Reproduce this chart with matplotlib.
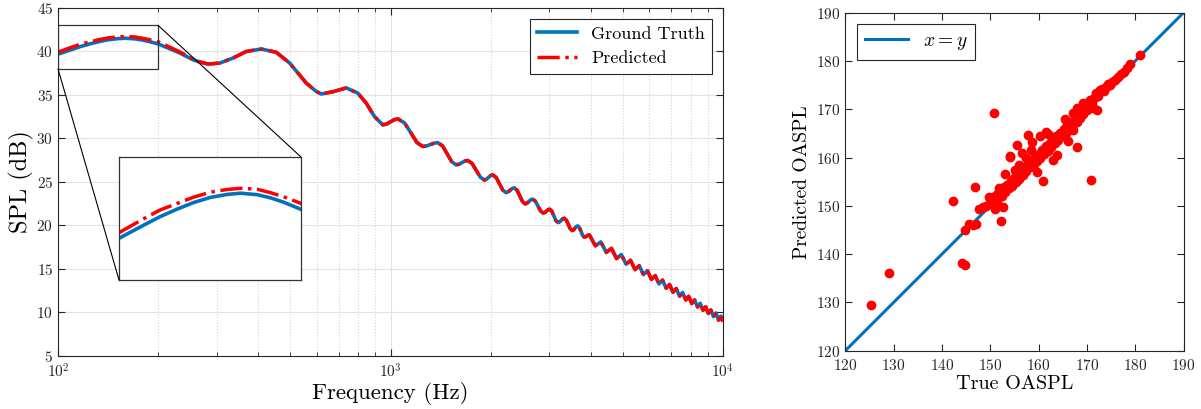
import numpy as np
import matplotlib
matplotlib.use("Agg")
import matplotlib.pyplot as plt
from matplotlib.patches import Rectangle, ConnectionPatch

plt.rcParams['font.family'] = ['cmr10', 'DejaVu Serif']
plt.rcParams['mathtext.fontset'] = 'cm'
plt.rcParams['axes.formatter.use_mathtext'] = True
plt.rcParams['axes.unicode_minus'] = False

# SPL spectrum (Hz, dB)
freq = [100, 109.8, 117, 124.7, 132.9, 141.7, 151, 159, 169.4, 178.3, 187.6, 200,
        232.5, 254.9, 267, 282.7, 306.6, 336, 368.6, 409, 453.6, 497.5, 558, 598,
        619, 671, 736, 797.6, 845, 895, 948, 974, 1000, 1026, 1052,
        1101.5, 1151, 1200.5, 1250, 1284, 1318.5, 1353, 1387,
        1434, 1480.5, 1527, 1574, 1607, 1640, 1673, 1706,
        1758, 1810.5, 1863, 1915, 1943.5, 1972, 2000.5, 2029,
        2078, 2126.5, 2175, 2224, 2257, 2290, 2323, 2356,
        2402, 2448.5, 2495, 2541, 2574.5, 2608, 2641.5, 2675,
        2726, 2777.5, 2829, 2880, 2912.5, 2945, 2977.5, 3010,
        3055, 3100, 3145, 3190, 3225, 3260, 3295, 3330,
        3377.5, 3425, 3472.5, 3520, 3554, 3587.5, 3621, 3655,
        3699, 3742.5, 3786, 3830, 3863.5, 3897, 3930.5,
        3964, 4130, 4291, 4457, 4618, 4784, 4945, 5111, 5272, 5438, 5599, 5765,
        5926, 6092, 6253, 6419, 6580, 6746, 6907, 7073, 7234, 7400, 7561, 7727,
        7888, 8054, 8215, 8381, 8542, 8708, 8869, 9035, 9196, 9362, 9523, 9689,
        9850, 10000]
spl_true = [39.69, 40.22, 40.57, 40.87, 41.14, 41.35, 41.47, 41.52, 41.46, 41.33, 41.15, 40.87,
            39.82, 39.04, 38.78, 38.55, 38.66, 39.24, 40.00, 40.28, 39.90, 38.66, 36.36, 35.40,
            35.10, 35.36, 35.80, 35.20, 34.06, 32.50, 31.55, 31.65, 31.90, 32.14, 32.24,
            31.78, 30.65, 29.52, 29.06, 29.12, 29.28, 29.44, 29.50,
            29.13, 28.22, 27.32, 26.95, 27.02, 27.20, 27.38, 27.45,
            27.12, 26.32, 25.53, 25.20, 25.29, 25.50, 25.71, 25.80,
            25.50, 24.78, 24.05, 23.75, 23.83, 24.03, 24.22, 24.30,
            24.03, 23.38, 22.72, 22.45, 22.53, 22.73, 22.92, 23.00,
            22.77, 22.20, 21.63, 21.40, 21.46, 21.62, 21.78, 21.84,
            21.62, 21.07, 20.52, 20.30, 20.37, 20.55, 20.73, 20.80,
            20.59, 20.09, 19.59, 19.38, 19.46, 19.65, 19.84, 19.92,
            19.73, 19.27, 18.81, 18.62, 18.66, 18.76, 18.85,
            18.89, 17.63, 18.07, 16.87, 17.33, 16.16, 16.62, 15.51, 15.96, 14.89,
            15.34, 14.31, 14.76, 13.76, 14.20, 13.24, 13.68, 12.74, 13.17, 12.28,
            12.71, 11.83, 12.25, 11.39, 11.81, 10.98, 11.40, 10.59, 11.00, 10.20,
            10.61, 9.84, 10.24, 9.48, 9.89, 9.14, 9.53, 9.30]
# prediction differs visibly only at the low end and the high-frequency tail
pred_low = [39.92, 40.48, 40.84, 41.10, 41.36, 41.56, 41.67, 41.72, 41.68, 41.54, 41.37, 41.11,
            39.95, 39.10, 38.80]
pred_tail = [9.80, 9.05, 9.35, 8.90]
spl_pred = pred_low + spl_true[len(pred_low):-len(pred_tail)] + pred_tail

# OASPL scatter (true, predicted)
true_oaspl = [125.3, 129.0, 142.2, 144.2, 144.8, 144.7, 145.5, 146.4, 147.1, 147.7,
              146.9, 149.8, 150.8, 151.0, 152.7, 152.2, 148.4, 154.0, 155.6, 155.1,
              156.5, 157.9, 158.6, 160.2, 161.6, 167.1, 172.0, 167.9, 163.8, 159.7,
              160.9, 170.8, 154.1,
              149.2, 149.9, 150.5, 150.9, 151.3, 151.7, 152.0, 152.4, 152.8, 153.1,
              153.5, 153.8, 154.2, 154.6, 155.0, 155.3, 155.7, 156.0, 156.4, 156.8,
              157.1, 157.5, 157.9, 158.2, 158.6, 159.0, 159.3, 159.7, 160.1, 160.4,
              160.8, 161.2, 161.5, 161.9, 162.3, 162.6, 163.0, 163.4, 163.7, 164.1,
              164.5, 164.8, 165.2, 165.6, 165.9, 166.3, 166.7, 167.0, 167.4, 167.8,
              168.1, 168.5, 168.9, 169.2, 169.6, 170.0, 170.3, 170.7, 171.1, 171.5,
              171.9, 172.3, 172.7, 173.1, 173.5, 173.9, 174.4, 174.8, 175.3, 175.8,
              176.4, 177.0, 177.6, 178.3, 178.9, 181.0,
              158.5, 162.0, 163.0, 157.5, 156.0, 153.0, 151.8, 165.5, 168.0, 166.0,
              169.3, 168.6, 171.3, 165.8, 167.9, 167.2, 165.1, 166.2, 173.4, 172.0]
pred_oaspl = [129.4, 136.0, 151.1, 138.1, 137.7, 144.9, 146.2, 146.1, 146.2, 149.3,
              153.8, 151.8, 169.3, 149.4, 149.8, 146.9, 149.7, 160.3, 162.5, 157.4,
              161.0, 164.7, 163.3, 164.5, 165.2, 169.3, 169.9, 162.1, 160.5, 157.0,
              155.2, 155.4, 160.2,
              150.0, 150.6, 151.2, 152.0, 151.0, 152.6, 153.3, 152.1, 153.8, 152.9,
              154.4, 153.6, 155.1, 154.2, 155.8, 154.9, 156.3, 155.6, 157.2, 156.4,
              158.0, 157.2, 158.6, 158.0, 159.4, 158.6, 160.1, 159.3, 160.8, 160.0,
              161.5, 160.7, 162.3, 161.4, 163.0, 162.2, 163.8, 163.0, 164.4, 163.6,
              165.1, 164.4, 165.9, 165.1, 166.5, 165.8, 167.1, 166.6, 167.8, 167.3,
              168.6, 168.2, 169.4, 169.0, 170.3, 169.8, 171.1, 171.9, 171.0, 172.4,
              173.3, 172.8, 173.9, 174.2, 173.8, 174.6, 175.2, 175.0, 175.6, 176.1,
              176.6, 177.4, 177.8, 178.5, 179.4, 181.2,
              161.5, 164.8, 159.5, 160.0, 158.5, 156.5, 153.6, 168.0, 170.2, 163.5,
              171.2, 169.5, 170.2, 167.1, 167.4, 165.7, 165.0, 166.4, 174.0, 173.3]

blue = '#0072BD'
axcol = '#262626'
W, H = 1201, 409

fig = plt.figure(figsize=(W / 100, H / 100), dpi=100)


def px_axes(l, t, r, b):
    return fig.add_axes([l / W, 1 - b / H, (r - l) / W, (b - t) / H])


def matlab_style(ax):
    ax.tick_params(which='both', direction='in', top=True, right=True,
                   colors=axcol, labelcolor=axcol, labelsize=11)
    ax.tick_params(which='major', length=5)
    ax.tick_params(which='minor', length=3)
    ax.tick_params(axis='x', pad=5)
    for s in ax.spines.values():
        s.set_color(axcol)
        s.set_linewidth(0.8)


# left panel: spectrum
ax1 = px_axes(58, 8, 723, 355.5)
ax1.semilogx(freq, spl_true, color=blue, lw=2.6, label='Ground Truth')
ax1.semilogx(freq, spl_pred, color='red', lw=2.5, ls='-.', label='Predicted')
ax1.set_xlim(100, 10000)
ax1.set_ylim(5, 45)
ax1.set_yticks(np.arange(5, 46, 5))
ax1.grid(True, which='major', color='#e3e3e3', lw=0.8)
ax1.grid(True, which='minor', axis='x', color='#d5d5d5', lw=0.8, ls=':')
ax1.set_axisbelow(True)
matlab_style(ax1)
ax1.set_xlabel('Frequency (Hz)', fontsize=16.5, labelpad=1)
ax1.set_ylabel('SPL (dB)', fontsize=17.5, labelpad=2)
leg = ax1.legend(loc='upper right', fontsize=13, fancybox=False, framealpha=1,
                 edgecolor=axcol, borderaxespad=0.6, handlelength=2.2)
leg.get_frame().set_linewidth(0.8)

# zoom box and inset
ax1.add_patch(Rectangle((100, 38), 100, 5, fill=False, ec='#333333', lw=0.9, zorder=5))
axin = px_axes(119, 156.7, 300.7, 280)
axin.semilogx(freq, spl_true, color=blue, lw=2.6)
axin.semilogx(freq, spl_pred, color='red', lw=2.5, ls='-.')
axin.set_xlim(100, 200)
axin.set_ylim(38, 43)
axin.set_xticks([])
axin.set_yticks([])
axin.minorticks_off()
axin.tick_params(which='both', bottom=False, left=False, labelbottom=False, labelleft=False)
for s in axin.spines.values():
    s.set_color('#333333')
    s.set_linewidth(0.9)
for (xa, ya), (xb, yb) in [((200, 43), (1, 1)), ((100, 38), (0, 0))]:
    con = ConnectionPatch(xyA=(xa, ya), coordsA=ax1.transData,
                          xyB=(xb, yb), coordsB=axin.transAxes,
                          color='black', lw=0.8)
    fig.add_artist(con)

# right panel: OASPL scatter
ax2 = px_axes(845.3, 12.7, 1183.5, 350.7)
ax2.plot([120, 190], [120, 190], color=blue, lw=2.2, label='$x=y$')
ax2.scatter(true_oaspl, pred_oaspl, s=36, color='red', zorder=3)
ax2.set_xlim(120, 190)
ax2.set_ylim(120, 190)
ax2.set_xticks(np.arange(120, 191, 10))
ax2.set_yticks(np.arange(120, 191, 10))
matlab_style(ax2)
ax2.set_xlabel('True OASPL', fontsize=14.5, labelpad=2)
ax2.set_ylabel('Predicted OASPL', fontsize=14)
leg2 = ax2.legend(loc='upper left', fontsize=14, fancybox=False, framealpha=1,
                  edgecolor=axcol, borderaxespad=0.6, handlelength=2.2)
leg2.get_frame().set_linewidth(0.8)

fig.savefig('out.png', dpi=100)
